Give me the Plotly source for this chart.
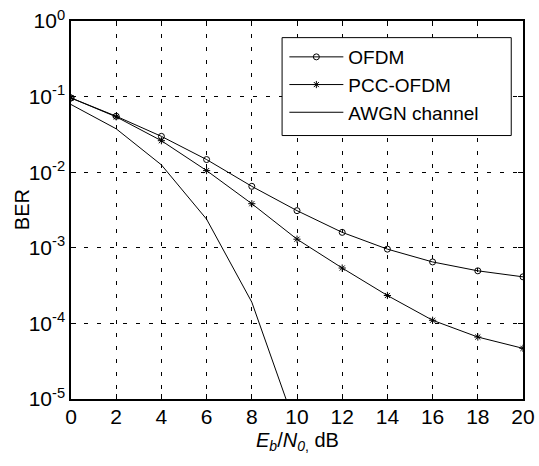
import plotly.graph_objects as go

ebn0 = [0, 2, 4, 6, 8, 10, 12, 14, 16, 18, 20]
ber_ofdm = [0.096, 0.055, 0.0298, 0.0147, 0.0065, 0.0031, 0.0016, 0.00096, 0.00065, 0.000496, 0.000413]
ber_pcc = [0.096, 0.054, 0.0261, 0.0105, 0.00383, 0.0013, 0.00054, 0.000234, 0.000110, 0.000066, 0.0000468]
ebn0_awgn = [0, 2, 4, 6, 8, 10]
ber_awgn = [0.0786, 0.0375, 0.0125, 0.00239, 0.000191, 0.00000387]

y_tickvals = [1e0, 1e-1, 1e-2, 1e-3, 1e-4, 1e-5]
y_ticktext = ["10<sup>0</sup>", "10<sup>-1</sup>", "10<sup>-2</sup>", "10<sup>-3</sup>", "10<sup>-4</sup>", "10<sup>-5</sup>"]
x_tickvals = [0, 2, 4, 6, 8, 10, 12, 14, 16, 18, 20]

FONT = "Liberation Sans, Arial, sans-serif"
FS = 20
TFS = 21
LFS = 19

fig = go.Figure()
fig.add_trace(go.Scatter(x=ebn0, y=ber_ofdm, name="OFDM", mode="lines+markers",
                         line=dict(color="black", width=1),
                         marker=dict(symbol="circle-open", size=6, color="black", line=dict(width=1, color="black"))))
fig.add_trace(go.Scatter(x=ebn0, y=ber_pcc, name="PCC-OFDM", mode="lines+markers",
                         line=dict(color="black", width=1),
                         marker=dict(symbol="asterisk-open", size=6, color="black", line=dict(width=1, color="black"))))
fig.add_trace(go.Scatter(x=ebn0_awgn, y=ber_awgn, name="AWGN channel", mode="lines",
                         line=dict(color="black", width=1)))

# legend frame
fig.add_shape(type="rect", xref="paper", yref="paper", x0=0.467, x1=0.974, y0=0.697, y1=0.956,
              line=dict(color="black", width=1), fillcolor="white", layer="above")

# axis titles
fig.add_annotation(text="BER", textangle=-90, xref="paper", yref="paper", x=-0.108, y=0.5,
                   xanchor="center", yanchor="middle", showarrow=False,
                   font=dict(family=FONT, size=FS, color="black"))
fig.add_annotation(text="<i>E</i><sub><i>b</i></sub>/<i>N</i><sub><i>0</i>,</sub> dB",
                   xref="paper", yref="paper", x=0.5, y=-0.112,
                   xanchor="center", yanchor="middle", showarrow=False,
                   font=dict(family=FONT, size=FS, color="black"))

fig.update_layout(
    width=539, height=466, autosize=False,
    margin=dict(l=71, r=16, t=21, b=67, autoexpand=False),
    paper_bgcolor="white", plot_bgcolor="white",
    font=dict(family=FONT, size=FS, color="black"),
    showlegend=True,
    legend=dict(x=0.472, y=0.955, xanchor="left", yanchor="top",
                bgcolor="rgba(0,0,0,0)", borderwidth=0,
                font=dict(family=FONT, size=LFS, color="black"),
                tracegroupgap=0, itemwidth=54),
    xaxis=dict(range=[0, 20], tickvals=x_tickvals, showgrid=True, gridcolor="black", gridwidth=1,
               griddash="4px,9px", showline=True, linecolor="black", linewidth=1.5, mirror="allticks",
               ticks="inside", ticklen=5, tickcolor="black", zeroline=False, automargin=False,
               ticklabeloverflow="allow", ticklabelstandoff=-2, tickfont=dict(size=TFS)),
    yaxis=dict(type="log", range=[-5, 0], tickvals=y_tickvals, ticktext=y_ticktext, showgrid=True,
               gridcolor="black", gridwidth=1, griddash="4px,9px", showline=True, linecolor="black",
               linewidth=1.5, mirror="allticks", ticks="inside", ticklen=5, tickcolor="black",
               zeroline=False, automargin=False, ticklabeloverflow="allow", tickfont=dict(size=TFS)),
)

fig.write_html("out.html", config={"displayModeBar": False},
               post_script="document.body.style.margin='0';document.body.style.overflow='hidden';")
